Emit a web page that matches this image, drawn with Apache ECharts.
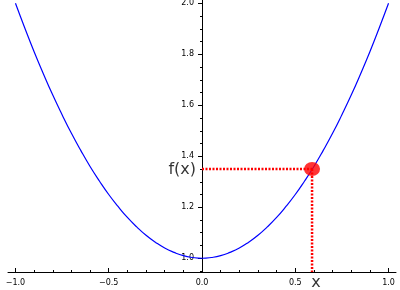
<!DOCTYPE html>
<html><head><meta charset="utf-8">
<script src="https://cdn.jsdelivr.net/npm/echarts@6/dist/echarts.min.js"></script>
<style>html,body{margin:0;padding:0;background:#fff}#c{width:400px;height:290px}</style>
</head><body><div id="c"></div>
<script>
const curveX = [-1.0,-0.95,-0.9,-0.85,-0.8,-0.75,-0.7,-0.65,-0.6,-0.55,-0.5,-0.45,-0.4,-0.35,-0.3,-0.25,-0.2,-0.15,-0.1,-0.05,0.0,0.05,0.1,0.15,0.2,0.25,0.3,0.35,0.4,0.45,0.5,0.55,0.6,0.65,0.7,0.75,0.8,0.85,0.9,0.95,1.0];
const curveY = [2.0,1.903,1.81,1.723,1.64,1.563,1.49,1.423,1.36,1.303,1.25,1.203,1.16,1.123,1.09,1.063,1.04,1.023,1.01,1.003,1.0,1.003,1.01,1.023,1.04,1.063,1.09,1.123,1.16,1.203,1.25,1.303,1.36,1.423,1.49,1.563,1.64,1.723,1.81,1.903,2.0];
const pointX = 0.59;
const pointY = 1.35;
const xTicks = [-1.0,-0.5,0.0,0.5,1.0];
const yTicks = [1.0,1.2,1.4,1.6,1.8,2.0];
const xRange = [-1.04, 1.04];
const yRange = [0.946, 2.013];
const fxLabel = 'f(x)';
const xLabel = 'x';

const FONT = 'DejaVu Sans';
const GRID_LEFT = 8, GRID_RIGHT = 4;
const fmt = v => (v < 0 ? '\u2212' : '') + Math.abs(v).toFixed(1);
const el = document.getElementById('c');
const chart = echarts.init(el, null, {renderer: 'canvas'});
// place the y axis where x = 0 falls inside the grid
const gridW = 400 - GRID_LEFT - GRID_RIGHT;
const yAxisOffset = -((0 - xRange[0]) / (xRange[1] - xRange[0])) * gridW;
const axisCommon = {
  type: 'value',
  splitLine: {show: false},
  axisLine: {lineStyle: {color: '#000', width: 1}},
};
chart.setOption({
  animation: false,
  backgroundColor: '#fff',
  grid: {left: GRID_LEFT, right: GRID_RIGHT, top: 0, bottom: 18, containLabel: false, outerBoundsMode: 'none'},
  xAxis: Object.assign({}, axisCommon, {
    min: xRange[0], max: xRange[1], minInterval: 0.5, maxInterval: 0.5,
    axisLine: {onZero: false, lineStyle: {color: '#000', width: 1}},
    axisTick: {inside: true, length: 4, customValues: xTicks, lineStyle: {color: '#000'}},
    minorTick: {show: true, splitNumber: 5, length: 2, lineStyle: {color: '#000'}},
    axisLabel: {customValues: xTicks, formatter: fmt, fontSize: 8, fontFamily: FONT, color: '#000', margin: 7}
  }),
  yAxis: Object.assign({}, axisCommon, {
    position: 'left', offset: yAxisOffset,
    min: yRange[0], max: yRange[1], minInterval: 0.2, maxInterval: 0.2,
    axisLine: {onZero: false, lineStyle: {color: '#000', width: 1}},
    axisTick: {inside: false, length: 4, customValues: yTicks, lineStyle: {color: '#000'}},
    minorTick: {show: true, splitNumber: 4, length: 2, lineStyle: {color: '#000'}},
    axisLabel: {show: true, customValues: yTicks, formatter: fmt, fontSize: 8, fontFamily: FONT, color: '#000', margin: 8, hideOverlap: false}
  }),
  series: [
    {type: 'line', data: curveX.map((x, i) => [x, curveY[i]]), showSymbol: false, symbol: 'none', smooth: true,
     lineStyle: {color: '#0000ff', width: 1.2}, z: 2},
    {type: 'line', data: [[0, pointY], [pointX, pointY]], showSymbol: false, symbol: 'none',
     lineStyle: {color: '#ff0000', width: 2.5, type: [2, 1.5]}, z: 3},
    {type: 'line', data: [[pointX, pointY], [pointX, yRange[0]]], showSymbol: false, symbol: 'none',
     lineStyle: {color: '#ff0000', width: 2.5, type: [2, 1.5]}, z: 3},
    {type: 'scatter', data: [[pointX, pointY]], symbol: 'circle', symbolSize: [16, 14],
     itemStyle: {color: '#ff0000'}, z: 5},
    {type: 'scatter', clip: false, symbolSize: 0, z: 6, silent: true,
     label: {show: true, fontSize: 16, fontFamily: FONT, color: '#000'},
     data: [
       {value: [0, pointY], label: {formatter: fxLabel, position: 'left', distance: 6, offset: [0, 1]}},
       {value: [pointX, yRange[0]], label: {formatter: xLabel, position: 'bottom', distance: 3, offset: [4, 0]}}
     ]}
  ]
});
</script></body></html>
